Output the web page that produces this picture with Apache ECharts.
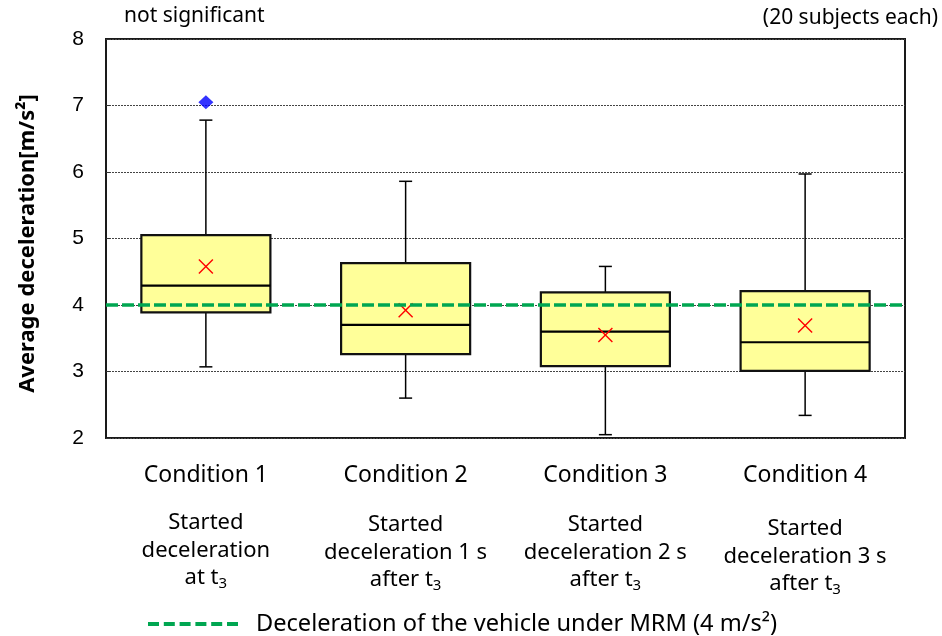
<!DOCTYPE html>
<html>
<head>
<meta charset="utf-8">
<script src="https://cdn.jsdelivr.net/npm/echarts@6/dist/echarts.min.js"></script>
<style>
  html, body { margin: 0; padding: 0; background: #fff; }
  #chart { width: 942px; height: 636px; }
</style>
</head>
<body>
<div id="chart"></div>
<script>
// data
const categories = ['Condition 1', 'Condition 2', 'Condition 3', 'Condition 4']
const descriptions = [
  ['Started', 'deceleration', 'at t'],
  ['Started', 'deceleration 1 s', 'after t'],
  ['Started', 'deceleration 2 s', 'after t'],
  ['Started', 'deceleration 3 s', 'after t']
]
const whiskerLow = [3.07, 2.60, 2.05, 2.34]
const q1 = [3.89, 3.26, 3.08, 3.01]
const median = [4.29, 3.70, 3.60, 3.44]
const q3 = [5.05, 4.63, 4.19, 4.21]
const whiskerHigh = [6.78, 5.86, 4.58, 5.97]
const means = [4.58, 3.92, 3.55, 3.69]
const outliers = [[0, 7.05]]
const mrmValue = 4
const yTicks = [2, 3, 4, 5, 6, 7, 8]

const labelFont = 'Noto Sans'

const boxData = categories.map((c, i) => [i, whiskerLow[i], q1[i], median[i], q3[i], whiskerHigh[i], means[i]])

// box, whiskers, median and mean cross
const renderBox = (params, api) => {
  const x = api.value(0)
  const pLow = api.coord([x, api.value(1)])
  const pQ1 = api.coord([x, api.value(2)])
  const pMed = api.coord([x, api.value(3)])
  const pQ3 = api.coord([x, api.value(4)])
  const pHigh = api.coord([x, api.value(5)])
  const pMean = api.coord([x, api.value(6)])
  const halfW = api.size([1, 0])[0] * 0.323
  const cap = 6.5
  const m = 7
  const thin = { stroke: '#000', lineWidth: 1.5 }
  const cx = pQ1[0]
  return {
    type: 'group',
    children: [
      { type: 'line', shape: { x1: cx, y1: pHigh[1], x2: cx, y2: pQ3[1] }, style: thin },
      { type: 'line', shape: { x1: cx, y1: pQ1[1], x2: cx, y2: pLow[1] }, style: thin },
      { type: 'line', shape: { x1: cx - cap, y1: pHigh[1], x2: cx + cap, y2: pHigh[1] }, style: thin },
      { type: 'line', shape: { x1: cx - cap, y1: pLow[1], x2: cx + cap, y2: pLow[1] }, style: thin },
      {
        type: 'rect',
        shape: { x: cx - halfW, y: pQ3[1], width: halfW * 2, height: pQ1[1] - pQ3[1] },
        style: { fill: '#ffff99', stroke: '#111', lineWidth: 2.2 }
      },
      { type: 'line', shape: { x1: cx - halfW, y1: pMed[1], x2: cx + halfW, y2: pMed[1] }, style: { stroke: '#000', lineWidth: 2.2 } },
      { type: 'line', shape: { x1: pMean[0] - m, y1: pMean[1] - m, x2: pMean[0] + m, y2: pMean[1] + m }, style: { stroke: '#ff0000', lineWidth: 1.4 } },
      { type: 'line', shape: { x1: pMean[0] - m, y1: pMean[1] + m, x2: pMean[0] + m, y2: pMean[1] - m }, style: { stroke: '#ff0000', lineWidth: 1.4 } }
    ]
  }
}

// the description blocks do not sit at quite the same height in the original
const spacerStyles = ['g0', 'g1', 'g1', 'g3']

const chart = echarts.init(document.getElementById('chart'))

chart.setOption({
  backgroundColor: '#fff',
  animation: false,
  title: [
    {
      text: 'not significant',
      left: 124,
      top: 6,
      padding: 0,
      textStyle: { fontFamily: labelFont, fontSize: 21, fontWeight: 'normal', color: '#000' }
    },
    {
      text: '(20 subjects each)',
      right: 4,
      top: 8,
      padding: 0,
      textStyle: { fontFamily: labelFont, fontSize: 21, fontWeight: 'normal', color: '#000' }
    }
  ],
  legend: {
    left: 148,
    top: 612,
    padding: 0,
    itemWidth: 90,
    itemHeight: 4,
    icon: 'path://M0,0h11v4h-11z M15.8,0h11v4h-11z M31.6,0h11v4h-11z M47.4,0h11v4h-11z M63.2,0h11v4h-11z M79,0h11v4h-11z',
    textStyle: { fontFamily: labelFont, fontSize: 23.6, color: '#000', padding: [0, 0, 0, 13] },
    data: ['Deceleration of the vehicle under MRM (4 m/s²)']
  },
  grid: {
    left: 106,
    right: 37,
    top: 39,
    bottom: 198,
    show: true,
    borderColor: '#1a1a1a',
    borderWidth: 2,
    backgroundColor: 'transparent'
  },
  xAxis: {
    type: 'category',
    data: categories,
    boundaryGap: true,
    axisLine: { show: false },
    axisTick: { show: false },
    splitLine: { show: false },
    axisLabel: {
      margin: 18,
      interval: 0,
      formatter: (value, idx) => {
        const d = descriptions[idx]
        return '{c|' + value + '}\n{' + spacerStyles[idx] + '| }\n{d|' + d[0] + '}\n{d|' + d[1] + '}\n{d|' + d[2] + '}{s|3}'
      },
      rich: {
        c: { fontFamily: labelFont, fontSize: 23, color: '#000', lineHeight: 38 },
        g0: { fontSize: 8, lineHeight: 15 },
        g1: { fontSize: 8, lineHeight: 17 },
        g3: { fontSize: 8, lineHeight: 21 },
        d: { fontFamily: labelFont, fontSize: 22, color: '#000', lineHeight: 27.5 },
        s: { fontFamily: labelFont, fontSize: 15, color: '#000', lineHeight: 9, verticalAlign: 'bottom' }
      }
    }
  },
  yAxis: {
    type: 'value',
    min: yTicks[0],
    max: yTicks[yTicks.length - 1],
    interval: 1,
    name: 'Average deceleration[m/s²]',
    nameLocation: 'middle',
    nameGap: 67,
    nameTextStyle: { fontFamily: labelFont, fontSize: 22, fontWeight: 'bold', color: '#000', padding: [0, 10, 0, 0] },
    axisLine: { show: false },
    axisTick: { show: true, inside: true, length: 4, lineStyle: { color: '#333' } },
    axisLabel: {
      margin: 22,
      fontFamily: 'Liberation Sans',
      fontSize: 21,
      color: '#000'
    },
    splitLine: {
      show: true,
      lineStyle: { color: '#444', width: 1, type: [2, 1] }
    }
  },
  series: [
    {
      name: 'Deceleration of the vehicle under MRM (4 m/s²)',
      type: 'line',
      data: [],
      z: 1,
      color: '#00a651',
      markLine: {
        silent: true,
        symbol: 'none',
        label: { show: false },
        lineStyle: { color: '#00a651', width: 3.5, type: [12, 4] },
        data: [{ yAxis: mrmValue }]
      }
    },
    {
      name: 'box',
      type: 'custom',
      z: 3,
      renderItem: renderBox,
      encode: { x: 0, y: [1, 2, 3, 4, 5, 6] },
      data: boxData
    },
    {
      name: 'outlier',
      type: 'scatter',
      z: 4,
      symbol: 'diamond',
      symbolSize: [15, 14],
      itemStyle: { color: '#0000ff' },
      data: outliers
    }
  ]
})
</script>
</body>
</html>
